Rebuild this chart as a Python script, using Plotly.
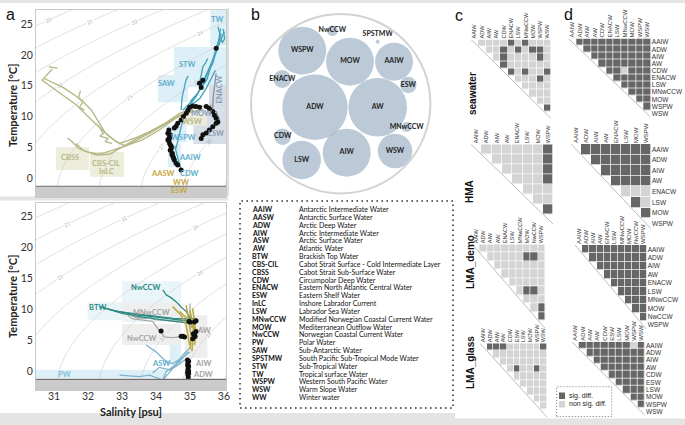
import numpy as np
import plotly.graph_objects as go

W, H = 685, 425

# ---------------- Panel a (top): global seawater T-S profiles ----------------
olive_top_S = [31.11, 30.85, None,
               30.95, 30.65, 31.15, 31.65, 32.0, 32.34, 32.63, 32.93, 33.4, 33.8, 34.3, 34.69, 35.28, 35.66, None,
               30.7, 31.3, 31.8, 32.1, 32.3, 32.5, 32.8, 33.1, 33.6, 34.1, 34.6, 35.0, 35.4, None,
               31.65, 31.85, 32.24, 32.63, 32.93, 33.4, 33.8, 34.3, 34.69, 35.1, None,
               31.4, 31.55, 31.7, 31.8, 32.0, 32.3, 32.5, 32.7, 33.0, 33.5, 34.0, 34.5, 34.9, None,
               31.78, 31.72, 31.85, 31.75, 31.9, None,
               32.3, 32.45, 32.35, 32.6, 32.5, 32.7]
olive_top_T = [17.8, 18.1, None,
               17.7, 15.9, 13.9, 11.9, 10.0, 8.3, 6.7, 5.6, 6.5, 7.5, 9.0, 10.5, 11.6, 11.85, None,
               16.2, 14.6, 12.7, 11.0, 9.2, 7.4, 6.0, 5.2, 6.2, 7.8, 9.8, 10.6, 11.2, None,
               5.6, 4.5, 3.7, 3.85, 4.8, 6.0, 7.25, 8.8, 10.2, 11.0, None,
               6.5, 5.8, 4.9, 4.6, 4.2, 3.9, 4.1, 4.5, 5.0, 6.6, 8.0, 9.6, 10.4, None,
               14.2, 13.0, 12.4, 11.5, 11.0, None,
               8.6, 7.2, 6.8, 6.4, 5.9, 5.6]

teal_top_S = [34.59, 34.66, 34.74, 34.89, 35.1, 35.28, 35.45, 35.57, 35.75, 35.87, 36.01, None,
              34.79, 35.0, 35.18, 35.4, 35.55, 35.67, 35.8, 35.92, None,
              35.28, 35.33, 35.38, 35.45, 35.52, None,
              34.74, 34.77, 34.84, 34.88, 34.95, None,
              35.82, 35.9, 35.95, 36.02, 35.98, None,
              34.55, 34.62, 34.7, 34.74, None,
              35.0, 35.2, 35.5, 35.7, 35.85, 35.9, None,
              34.85, 35.0, 35.3, 35.5, 35.75]
teal_top_T = [4.8, 6.5, 8.3, 11.0, 12.6, 14.3, 16.4, 18.1, 20.2, 21.9, 23.75, None,
              11.0, 12.1, 13.2, 15.5, 17.4, 18.6, 21.0, 23.5, None,
              15.4, 16.6, 18.1, 18.6, 19.4, None,
              11.0, 13.2, 14.8, 15.9, 16.6, None,
              24.6, 23.0, 22.0, 22.6, 24.2, None,
              5.2, 3.8, 2.5, 1.3, None,
              12.4, 13.6, 16.0, 19.5, 22.5, 24.3, None,
              10.8, 11.6, 13.0, 14.8, 17.5]

slate_top_S = [35.77, 35.72, 35.68, 35.67, 35.7, None, 35.48, 35.6, 35.77, 35.87, 35.8, None, 35.33, 35.48, 35.67, 35.8]
slate_top_T = [17.0, 15.0, 13.0, 11.0, 10.3, None, 11.3, 11.2, 10.8, 9.4, 8.6, None, 6.4, 7.5, 8.1, 8.8]

dots_top_S = [34.38, 34.35, 34.40, 34.35, 34.40, 34.45, 34.42, 34.48, 34.50, 34.54, 34.59, 34.64, 34.74, 34.42, 34.38, 34.45, 34.47, 34.52, 34.43, 34.40,
              34.54, 34.59, 34.64, 34.74, 34.81, 34.89, 34.94, 34.99, 35.08, 35.18, 35.28, 35.48, 35.57,
              35.67, 35.72, 35.77, 35.82, 35.77, 35.67, 35.57, 35.48, 35.38, 35.33,
              35.28, 35.38, 35.33, 35.77, 34.45]
dots_top_T = [7.8, 7.25, 6.7, 6.2, 5.6, 5.1, 4.5, 4.0, 3.5, 2.9, 2.4, 2.1, 1.3, 7.0, 6.0, 4.8, 3.8, 3.2, 5.3, 6.5,
              8.1, 8.4, 8.9, 9.4, 10.0, 10.5, 11.0, 11.5, 11.7, 11.6, 11.5, 11.6, 11.3,
              10.8, 10.2, 9.7, 9.1, 8.9, 8.3, 7.8, 7.3, 7.0, 6.4,
              15.4, 15.9, 14.7, 21.1, -1.7]

# water-mass domains (S min, S max, T min, T max, kind)
top_boxes = [(35.6, 36.06, 21.5, 27.3, "blue"), (34.53, 36.06, 14.8, 21.3, "blue"),
             (34.06, 34.94, 12.3, 16.7, "blue"), (35.56, 36.06, 11.0, 15.1, "slate"),
             (35.1, 36.06, 5.5, 11.0, "slate"), (34.8, 35.5, 8.5, 10.5, "olive"),
             (34.3, 34.9, 5.8, 8.5, "blue"), (34.35, 34.74, 1.8, 5.6, "blue"),
             (34.1, 34.9, -2.4, -1.2, "olive"), (31.06, 32.03, 1.3, 5.0, "olive"),
             (32.06, 33.06, 0.2, 4.2, "olive")]
top_labels = ["TW", "STW", "SAW", "ENACW", "MOW", "WSW", "WSPW", "LSW", "AAIW", "CDW", "AASW", "WW", "ESW", "CBSS", "CBS-CIL", "InLC"]
top_label_S = [35.81, 34.93, 34.31, 35.87, 35.34, 35.07, 34.81, 35.78, 34.99, 34.99, 34.19, 34.75, 34.69, 31.46, 32.54, 32.54]
top_label_T = [25.8, 18.5, 15.4, 14.3, 10.55, 9.25, 6.65, 7.3, 3.4, 0.65, 0.65, -0.8, -2.1, 3.4, 2.3, 1.0]
top_label_kind = ["blue", "blue", "blue", "slate", "slate", "olive", "blue", "slate", "blue", "blue", "gold", "gold", "gold", "olive", "olive", "olive"]

# ---------------- Panel a (bottom): high-latitude T-S profiles ----------------
teal_bot_S = [34.2, 34.3, 34.45, 34.59, 34.75, 34.89, 35.04, 35.18, None,
              32.34, 32.73, 33.12, 33.51, 33.9, 34.3, 34.89, 35.18, None,
              32.45, 32.9, 33.3, 34.0, 34.5, 34.89, 35.18, None,
              32.6, 33.0, 33.6, 34.2, 34.7, 35.1]
teal_bot_T = [13.1, 12.3, 11.8, 11.2, 10.3, 9.6, 8.2, 7.9, None,
              10.4, 9.8, 9.4, 9.0, 8.8, 8.5, 8.1, 8.1, None,
              10.2, 9.6, 9.3, 8.8, 8.5, 8.4, 8.4, None,
              10.0, 9.3, 8.7, 8.2, 7.9, 7.7]
gray_bot_S = [33.17, 33.32, 33.61, 33.9, 34.05, 34.15, 34.25, 34.49, 34.79, None, 35.0, 35.0, 35.04, None,
              33.3, 33.45, 33.7, 33.8, 33.95, 34.4, 34.8]
gray_bot_T = [9.0, 8.4, 8.2, 8.0, 6.9, 6.1, 5.5, 5.4, 5.6, None, 10.9, 9.0, 6.9, None,
              8.9, 8.6, 8.5, 8.8, 8.3, 8.2, 8.0]
olive_bot_S = [34.49, 34.74, 34.89, 34.94, 34.99, None, 34.89, 34.94, 34.99, 35.04, 35.0, None,
               35.08, 35.13, 35.18, 35.13, None, 35.0, 35.05, 35.1, 35.08, 35.06, None,
               34.7, 34.85, 35.0, 35.15, 35.2]
olive_bot_T = [10.4, 9.0, 7.4, 5.8, 4.2, None, 10.6, 9.0, 7.5, 5.5, 3.5, None,
               10.1, 7.9, 5.8, 4.2, None, 9.8, 8.6, 7.0, 5.0, 3.2, None,
               9.6, 8.8, 8.0, 6.5, 5.2]
blue_bot_S = [32.93, 33.51, 33.81, 34.0, 34.2, 34.49, 34.79, 34.99, None,
              33.71, 34.0, 34.3, 34.49, 34.79, 35.0, None,
              34.2, 34.3, 34.69, 34.94, None,
              33.9, 34.1, 34.4, 34.6, 34.9]
blue_bot_T = [-0.65, -0.9, -0.65, -1.1, -1.45, 0.4, 2.6, 3.7, None,
              4.2, 3.1, 1.5, 1.2, 2.2, 3.1, None,
              -1.45, -0.1, 1.5, 3.1, None,
              -0.3, 0.6, 0.2, 0.8, 2.0]
dots_bot_S = [34.15, 34.74, 34.79, 34.84, 34.97, 35.0, 35.13, 35.18, 35.08, 35.13, 35.18, 35.15, 35.1,
              34.93, 34.94, 34.93, 34.95, 34.94, 34.93, 34.94, 34.95, 34.96, 34.96, 34.96, 34.96]
dots_bot_T = [6.45, 5.6, 5.6, 5.5, 8.0, 7.9, 7.9, 8.1, 5.2, 5.8, 6.4, 5.6, 6.0,
              1.8, 1.4, 1.0, 0.6, 0.2, -0.2, -0.6, -1.0, 1.6, 0.8, 0.0, -0.4]
bot_boxes = [(33.0, 34.74, 7.9, 14.5, "blue2"), (31.99, 33.0, 8.2, 11.1, "blue2"),
             (33.0, 34.74, 8.6, 11.0, "gray"), (33.0, 34.74, 4.2, 7.6, "gray"),
             (34.84, 35.51, 2.1, 9.0, "gray"), (30.47, 34.3, -1.1, 0.2, "blue"),
             (34.4, 34.74, 1.0, 4.2, "blue")]
bot_labels = ["NwCCW", "BTW", "MNwCCW", "NwCCW", "AW", "AIW", "ADW", "ASW", "PW"]
bot_label_S = [33.72, 32.28, 33.87, 33.6, 35.4, 35.37, 35.37, 34.16, 31.31]
bot_label_T = [13.4, 10.3, 9.5, 5.3, 6.6, 1.3, -0.6, 1.3, -0.6]
bot_label_kind = ["teal", "teal", "gray", "gray", "gray", "gray", "gray", "blue", "lblue"]

# ---------------- Panel b: bubble chart + abbreviation list ----------------
bubble_names = ["WSPW", "NwCCW", "SPSTMW", "MOW", "AAIW", "ENACW", "ESW", "ADW", "AW", "MNwCCW", "CDW", "LSW", "AIW", "WSW"]
bubble_r = [24, 5.3, 2, 24, 19, 9, 8.3, 32.7, 29.3, 5, 8.3, 19.3, 24, 17.3]
bubble_cx = [302.3, 332.3, 377.7, 350, 394, 282.3, 408.3, 315, 377.7, 406.7, 282.7, 301.7, 346.7, 395]
bubble_cy = [50.7, 30.7, 41.7, 61.7, 61.7, 79, 85, 107.3, 107.3, 127, 136.7, 160, 152.7, 151]

abbrevs = ["AAIW", "AASW", "ADW", "AIW", "ASW", "AW", "BTW", "CBS-CIL", "CBSS", "CDW", "ENACW", "ESW", "InLC", "LSW",
           "MNwCCW", "MOW", "NwCCW", "PW", "SAW", "SPSTMW", "STW", "TW", "WSPW", "WSW", "WW"]
full_names = ["Antarctic Intermediate Water", "Antarctic Surface Water", "Arctic Deep Water", "Arctic Intermediate Water",
              "Arctic Surface Water", "Atlantic Water", "Brackish Top Water", "Cabot Strait Surface - Cold Intermediate Layer",
              "Cabot Strait Sub-Surface Water", "Circumpolar Deep Water", "Eastern North Atlantic Central Water",
              "Eastern Shelf Water", "Inshore Labrador Current", "Labrador Sea Water", "Modified Norwegian Coastal Current Water",
              "Mediterranean Outflow Water", "Norwegian Coastal Current Water", "Polar Water", "Sub-Antarctic Water",
              "South Pacific Sub-Tropical Mode Water", "Sub-Tropical Water", "Tropical surface Water",
              "Western South Pacific Water", "Warm Slope Water", "Winter water"]

# ---------------- Panels c, d: pairwise significance matrices ----------------
seawater_labels = ["AAIW", "ADW", "AIW", "AW", "CDW", "ENACW", "LSW", "MNwCCW", "MOW", "WSPW", "WSW"]
hma_labels = ["AAIW", "ADW", "AIW", "AW", "ENACW", "LSW", "MOW", "WSPW"]
demo_labels = ["AAIW", "ADW", "AIW", "AW", "ENACW", "LSW", "MNwCCW", "MOW", "NwCCW", "WSPW"]
glass_labels = ["AAIW", "ADW", "AIW", "AW", "CDW", "ESW", "LSW", "MOW", "WSPW", "WSW"]
# '1' = sig. diff., '0' = non sig. diff., '-' = empty
c_seawater = ["-0000101000", "--001010110", "---01000010", "----1000000", "-----101001", "------00010",
              "-------0000", "--------000", "---------00", "----------1", "-----------"]
c_hma = ["-0000001", "--000001", "---00001", "----0001", "-----000", "------00", "-------1", "--------"]
c_demo = ["-000000000", "--00000110", "---0000000", "----000000", "-----00000", "------0110", "-------000",
          "--------01", "---------1", "----------"]
c_glass = ["-111000001", "--00000000", "---0000000", "----010010", "-----00000", "------0000", "-------000",
           "--------00", "---------0", "----------"]
d_seawater = ["-1111111111", "--111111111", "---11111111", "----1111111", "-----110111", "------11111",
              "-------1111", "--------111", "---------11", "----------1", "-----------"]
d_hma = ["-1111111", "--111111", "---11111", "----1111", "-----000", "------10", "-------1", "--------"]
d_demo = ["-111111111", "--11111111", "---1111111", "----111111", "-----11111", "------1111", "-------111",
          "--------11", "---------1", "----------"]
d_glass = ["-111111101", "--11111111", "---1111111", "----111111", "-----11111", "------1111", "-------111",
           "--------11", "---------1", "----------"]

# ======================================================================
PANEL_FONT = "Lato"
MAT_FONT = "Liberation Sans"
COL = {"blue": "#5eaecb", "slate": "#8b9db3", "olive": "#b7b88c", "gold": "#c9a53e",
       "teal": "#2b8a80", "gray": "#a3a3a3", "lblue": "#7fc0dc"}
BOXFILL = {"blue": "#ddeff7", "blue2": "#eaf5fa", "slate": "#d6dee7", "olive": "#ecedda", "gray": "#eeeeee"}


def xd(a, b):
    return [a / W, b / W]


def yd(top, bottom):
    return [1 - bottom / H, 1 - top / H]


def pann(text, x, y, size, color="#111", family=PANEL_FONT, xanchor="center", angle=0):
    return dict(text=text, x=x / W, y=1 - y / H, xref="paper", yref="paper", showarrow=False,
                xanchor=xanchor, yanchor="middle", textangle=angle,
                font=dict(family=family, size=size, color=color))


fig = go.Figure()
shapes, annotations = [], []

# density (sigma-0) background from UNESCO 1980 one-atmosphere equation of state
Sg = np.linspace(30.2, 36.4, 125)
Tg = np.linspace(-3.5, 28.0, 127)
SS, TT = np.meshgrid(Sg, Tg)
rw = (999.842594 + 6.793952e-2 * TT - 9.095290e-3 * TT ** 2 + 1.001685e-4 * TT ** 3
      - 1.120083e-6 * TT ** 4 + 6.536332e-9 * TT ** 5)
rho = (rw + SS * (0.824493 - 4.0899e-3 * TT + 7.6438e-5 * TT ** 2 - 8.2467e-7 * TT ** 3 + 5.3875e-9 * TT ** 4)
       + SS ** 1.5 * (-5.72466e-3 + 1.0227e-4 * TT - 1.6546e-6 * TT ** 2) + 4.8314e-4 * SS ** 2)
sigma = rho - 1000.0

XR = [30.47, 36.06]
for ax, yr in (("", [-3.1, 27.3]), ("2", [-3.05, 27.1])):
    fig.add_trace(go.Contour(x=Sg, y=Tg, z=sigma, xaxis="x" + ax, yaxis="y" + ax,
                             contours=dict(start=20, end=29, size=1, coloring="lines", showlabels=True,
                                           labelfont=dict(size=5, color="#b0b0b0")),
                             colorscale=[[0, "#d6d6d6"], [1, "#d6d6d6"]], line=dict(width=0.8),
                             showscale=False, hoverinfo="skip"))
    # freezing band
    shapes.append(dict(type="rect", xref="x" + ax, yref="y" + ax, x0=XR[0], x1=XR[1], y0=yr[0], y1=-1.35,
                       fillcolor="#cbcbcb", line=dict(width=0), layer="above"))
    shapes.append(dict(type="line", xref="x" + ax, yref="y" + ax, x0=XR[0], x1=XR[1], y0=-1.35, y1=-1.35,
                       line=dict(color="#6e6e6e", width=1.2), layer="above"))

for (s0, s1, t0, t1, k) in top_boxes:
    shapes.append(dict(type="rect", xref="x", yref="y", x0=s0, x1=s1, y0=t0, y1=t1,
                       fillcolor=BOXFILL[k], line=dict(width=0), layer="below"))
for (s0, s1, t0, t1, k) in bot_boxes:
    shapes.append(dict(type="rect", xref="x2", yref="y2", x0=s0, x1=s1, y0=t0, y1=t1,
                       fillcolor=BOXFILL[k], line=dict(width=0), layer="below"))


def lines(S, T, color, ax, w=1.3):
    fig.add_trace(go.Scatter(x=S, y=T, mode="lines", line=dict(color=color, width=w), xaxis="x" + ax,
                             yaxis="y" + ax, hoverinfo="skip", connectgaps=False))


lines(olive_top_S, olive_top_T, "#b5b784", "")
lines(slate_top_S, slate_top_T, "#7f91a6", "")
lines(teal_top_S, teal_top_T, "#44a3bd", "")
fig.add_trace(go.Scatter(x=dots_top_S, y=dots_top_T, mode="markers", marker=dict(color="#111", size=5),
                         xaxis="x", yaxis="y", hoverinfo="skip"))
lines(blue_bot_S, blue_bot_T, "#7fb2cf", "2")
lines(gray_bot_S, gray_bot_T, "#a9a9a9", "2")
lines(teal_bot_S, teal_bot_T, "#2b8a80", "2")
lines(olive_bot_S, olive_bot_T, "#b8a940", "2", 1.6)
fig.add_trace(go.Scatter(x=dots_bot_S, y=dots_bot_T, mode="markers", marker=dict(color="#111", size=5),
                         xaxis="x2", yaxis="y2", hoverinfo="skip"))

for lab, s, t, k in zip(top_labels, top_label_S, top_label_T, top_label_kind):
    annotations.append(dict(text="<b>%s</b>" % lab, x=s, y=t, xref="x", yref="y", showarrow=False,
                            xanchor="center", yanchor="middle",
                            textangle=-90 if lab == "ENACW" else 0,
                            font=dict(family=PANEL_FONT, size=7.5, color=COL[k])))
for lab, s, t, k in zip(bot_labels, bot_label_S, bot_label_T, bot_label_kind):
    annotations.append(dict(text="<b>%s</b>" % lab, x=s, y=t, xref="x2", yref="y2", showarrow=False,
                            xanchor="center", yanchor="middle",
                            font=dict(family=PANEL_FONT, size=7.5, color=COL[k])))

axis_a = dict(showgrid=False, zeroline=False, showline=True, mirror=True, linecolor="#c9c9c9", linewidth=1,
              ticks="", automargin=False, tickfont=dict(family=PANEL_FONT, size=10.5, color="#333"))
layout = dict(
    xaxis=dict(domain=xd(36, 226), range=XR, showticklabels=False, anchor="y", **axis_a),
    yaxis=dict(domain=yd(10, 197), range=[-3.1, 27.3], tickvals=[0, 5, 10, 15, 20, 25], anchor="x", **axis_a),
    xaxis2=dict(domain=xd(36, 226), range=XR, tickvals=[31, 32, 33, 34, 35, 36], anchor="y2",
                ticklabelstandoff=-4, **axis_a),
    yaxis2=dict(domain=yd(203, 390), range=[-3.05, 27.1], tickvals=[0, 5, 10, 15, 20, 25], anchor="x2", **axis_a),
    xaxis3=dict(domain=xd(229, 455), range=[229, 455], visible=False, anchor="y3", automargin=False),
    yaxis3=dict(domain=yd(3, 200), range=[200, 3], visible=False, anchor="x3", automargin=False),
)
annotations.append(pann("<b>Temperature [°C]</b>", 12, 105, 11, "#222", angle=-90))
annotations.append(pann("<b>Temperature [°C]</b>", 12, 296, 11, "#222", angle=-90))
annotations.append(pann("<b>Salinity [psu]</b>", 131, 411, 11, "#222"))

# ---------- panel b ----------
shapes.append(dict(type="circle", xref="x3", yref="y3", x0=251, x1=430.4, y0=14, y1=193.4,
                   line=dict(color="#d3d3d3", width=2)))
fig.add_trace(go.Scatter(x=bubble_cx, y=bubble_cy, mode="markers+text", xaxis="x3", yaxis="y3",
                         marker=dict(size=[2 * r for r in bubble_r], color="#a0b3c8", line=dict(width=0)),
                         text=["<b>%s</b>" % n for n in bubble_names],
                         textposition=["middle center" if n != "SPSTMW" else "top center" for n in bubble_names],
                         textfont=dict(family=PANEL_FONT, size=7, color="#1e1e1e"), hoverinfo="skip"))
shapes.append(dict(type="rect", xref="paper", yref="paper", x0=240 / W, x1=453 / W, y0=1 - 408 / H, y1=1 - 201 / H,
                   line=dict(color="#333", width=1.6, dash="1.6px,3.4px")))
n_ab = len(abbrevs)
for i, (a, nm) in enumerate(zip(abbrevs, full_names)):
    yy = 209 + i * (397 - 209) / (n_ab - 1)
    annotations.append(pann("<b>%s</b>" % a, 250, yy, 7, xanchor="left"))
    annotations.append(pann(nm, 297, yy, 7, xanchor="left"))

# ---------- panels c, d ----------
mats = [
    (4, seawater_labels, c_seawater, 471, 39.5, 7.3, 7.2, False),
    (5, hma_labels, c_hma, 471, 144.3, 10.3, 10.0, False),
    (6, demo_labels, c_demo, 472.3, 244.3, 7.3, 8.44, False),
    (7, glass_labels, c_glass, 480, 343.3, 6.7, 7.37, False),
    (8, seawater_labels, d_seawater, 568.3, 38.5, 7.5, 7.15, True),
    (9, hma_labels, d_hma, 571, 144, 10.0, 10.6, True),
    (10, demo_labels, d_demo, 575, 245, 7.17, 8.44, True),
    (11, glass_labels, d_glass, 571.7, 341.7, 7.33, 7.37, True),
]
for idx, labels, rows, x0, y0, cw, ch, show_rows in mats:
    n = len(labels)
    z = [[None if c == "-" else int(c) for c in row] for row in rows]
    fig.add_trace(go.Heatmap(z=z, x=list(range(n)), y=list(range(n)), xaxis="x%d" % idx, yaxis="y%d" % idx,
                             colorscale=[[0, "#d4d4d4"], [1, "#666666"]], zmin=0, zmax=1, showscale=False,
                             xgap=0.7, ygap=0.7, hoverinfo="skip"))
    layout["xaxis%d" % idx] = dict(domain=xd(x0, x0 + n * cw), range=[-0.5, n - 0.5], side="top",
                                   tickvals=list(range(n)), ticktext=labels, tickangle=-90, anchor="y%d" % idx,
                                   showgrid=False, zeroline=False, showline=False, ticks="", automargin=False,
                                   tickfont=dict(family=MAT_FONT, size=5.5 if not show_rows else 6, color="#333"))
    layout["yaxis%d" % idx] = dict(domain=yd(y0, y0 + n * ch), range=[n - 0.5, -0.5], side="right",
                                   tickvals=list(range(n)), ticktext=labels, anchor="x%d" % idx,
                                   showticklabels=show_rows, showgrid=False, zeroline=False, showline=False,
                                   ticks="", automargin=False, tickfont=dict(family=MAT_FONT, size=6.5, color="#333"))
    shapes.append(dict(type="line", xref="x%d" % idx, yref="y%d" % idx, x0=-0.5, y0=-0.5, x1=n - 0.5, y1=n - 0.5,
                       line=dict(color="#bdbdbd", width=1)))

for txt, x, y in (("seawater", 473, 93), ("HMA", 469, 192), ("LMA_demo", 470, 262), ("LMA_glass", 470, 363)):
    annotations.append(pann("<b>%s</b>" % txt, x, y, 10, family=MAT_FONT, angle=-90))

# sig legend
shapes.append(dict(type="rect", xref="paper", yref="paper", x0=556.7 / W, x1=611.7 / W, y0=1 - 416.5 / H,
                   y1=1 - 386.7 / H, line=dict(color="#777", width=1, dash="1px,2px")))
shapes.append(dict(type="rect", xref="paper", yref="paper", x0=559 / W, x1=565 / W, y0=1 - 399 / H,
                   y1=1 - 392.5 / H, fillcolor="#666666", line=dict(width=0)))
shapes.append(dict(type="rect", xref="paper", yref="paper", x0=559 / W, x1=565 / W, y0=1 - 407.5 / H,
                   y1=1 - 401 / H, fillcolor="#d4d4d4", line=dict(width=0)))
annotations.append(pann("sig. diff.", 567, 395.7, 7, "#222", MAT_FONT, "left"))
annotations.append(pann("non sig. diff.", 567, 404.3, 7, "#222", MAT_FONT, "left"))

# panel letters
for txt, x, y in (("a", 10, 15), ("b", 256, 15), ("c", 459, 16), ("d", 568, 15)):
    annotations.append(pann(txt, x, y, 16, "#111", MAT_FONT))

# page frame (light grey strips)
for (x0, x1, y0, y1) in ((0, 685, 0, 3), (0, 455, 413, 425), (455, 685, 418.5, 425), (0, 228, 196.5, 200.5)):
    shapes.append(dict(type="rect", xref="paper", yref="paper", x0=x0 / W, x1=x1 / W, y0=1 - y1 / H, y1=1 - y0 / H,
                       fillcolor="#e4e4e4", line=dict(width=0), layer="below"))
shapes.append(dict(type="line", xref="paper", yref="paper", x0=228 / W, x1=228 / W, y0=1 - 196 / H, y1=1 - 8 / H,
                   line=dict(color="#bdbdbd", width=1)))

fig.update_layout(width=W, height=H, margin=dict(l=0, r=0, t=0, b=0), paper_bgcolor="white",
                  plot_bgcolor="rgba(0,0,0,0)", showlegend=False, shapes=shapes, annotations=annotations,
                  font=dict(family=PANEL_FONT, color="#333"), hovermode=False, **layout)
fig.write_html("out.html", config={"displayModeBar": False, "staticPlot": True},
               post_script="document.body.style.margin='0';document.body.style.overflow='hidden';")
